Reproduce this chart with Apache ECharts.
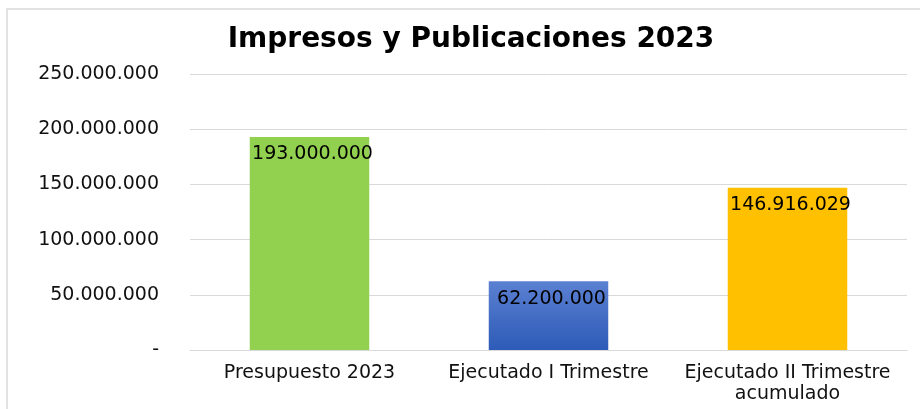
<!DOCTYPE html>
<html><head><meta charset="utf-8">
<script src="https://cdn.jsdelivr.net/npm/echarts@6/dist/echarts.min.js"></script>
<style>html,body{margin:0;padding:0;background:#fff}#c{width:920px;height:409px}</style>
</head><body><div id="c"></div>
<script>
const titleText = 'Impresos y Publicaciones 2023';
const categories = ['Presupuesto 2023', 'Ejecutado I Trimestre', 'Ejecutado II Trimestre\nacumulado'];
const values = [193000000, 62200000, 146916029];
const yTicks = [0, 50000000, 100000000, 150000000, 200000000, 250000000];

const fmt = v => v === 0 ? '-' : String(Math.round(v)).replace(/\B(?=(\d{3})+(?!\d))/g, '.');
const font = 'Verdana, "DejaVu Sans", sans-serif';
const colors = [
  '#92D050',
  new echarts.graphic.LinearGradient(0, 0, 0, 1, [{offset: 0, color: '#5B80D2'}, {offset: 1, color: '#2D5BB7'}]),
  '#FFC000'
];
const chart = echarts.init(document.getElementById('c'));
chart.setOption({
  animation: false,
  title: {text: titleText, left: 466, top: 21, textAlign: 'center',
    textStyle: {fontFamily: font, fontWeight: 'bold', fontSize: 28, color: '#000'}},
  graphic: [{type: 'rect', shape: {x: 7, y: 9, width: 940, height: 420},
    style: {fill: 'none', stroke: '#D9D9D9', lineWidth: 1.5}, silent: true}],
  grid: {left: 190, right: 13, top: 74, bottom: 59, containLabel: false},
  xAxis: {type: 'category', data: categories,
    axisLine: {lineStyle: {color: '#D9D9D9', width: 1}}, axisTick: {show: false},
    axisLabel: {fontFamily: font, fontSize: 19, color: '#111', margin: 13, lineHeight: 21, interval: 0}},
  yAxis: {type: 'value', min: yTicks[0], max: yTicks[yTicks.length - 1], interval: yTicks[1] - yTicks[0],
    axisLine: {show: false}, axisTick: {show: false},
    splitLine: {lineStyle: {color: '#D9D9D9', width: 1}},
    axisLabel: {fontFamily: font, fontSize: 19, color: '#111', margin: 31, formatter: fmt}},
  series: [{type: 'bar', barWidth: '50%',
    data: values.map((v, i) => ({value: v, itemStyle: {color: colors[i]}})),
    label: {show: true, position: 'insideTop', distance: 8, offset: [3, 0], fontFamily: font, fontSize: 19, color: '#000',
      formatter: p => fmt(p.value)}}]
});
</script></body></html>
